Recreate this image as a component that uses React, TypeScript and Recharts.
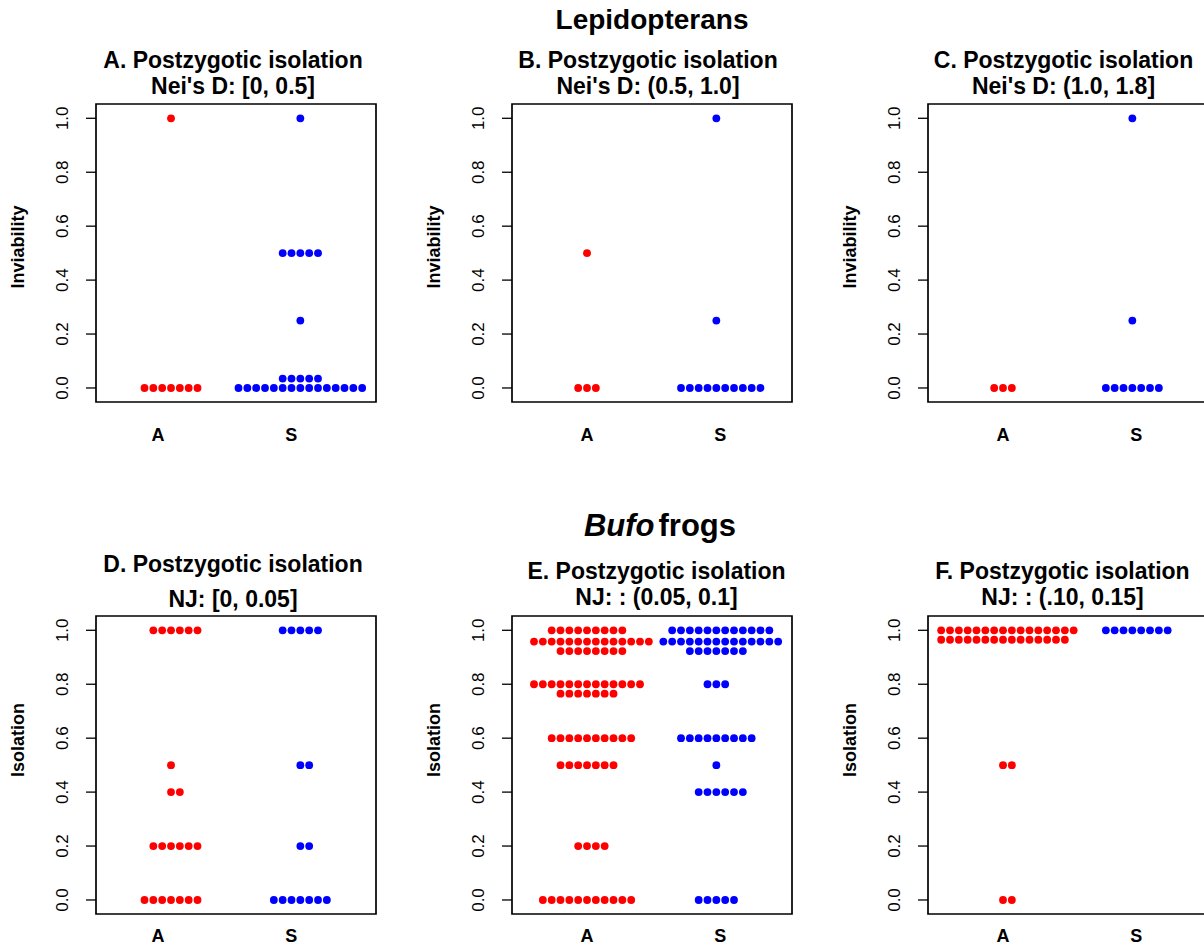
import { ScatterChart, Scatter, XAxis, YAxis, ReferenceArea } from 'recharts'

// group labels on the x axis
const categories = ['A', 'S']
const yTicks = [0, 0.2, 0.4, 0.6, 0.8, 1.0]

const panelLetters = ['A', 'B', 'C', 'D', 'E', 'F']
const rangeLabels = [
  "Nei's D: [0, 0.5]",
  "Nei's D: (0.5, 1.0]",
  "Nei's D: (1.0, 1.8]",
  'NJ: [0, 0.05]',
  'NJ: : (0.05, 0.1]',
  'NJ: : (.10, 0.15]',
]
const yLabels = ['Inviability', 'Inviability', 'Inviability', 'Isolation', 'Isolation', 'Isolation']

// each row: [value, number of pairs with that value]
const alloA: [number, number][] = [[1, 1], [0, 7]]
const sympA: [number, number][] = [[1, 1], [0.5, 5], [0.25, 1], [0.035, 5], [0, 15]]
const alloB: [number, number][] = [[0.5, 1], [0, 3]]
const sympB: [number, number][] = [[1, 1], [0.25, 1], [0, 10]]
const alloC: [number, number][] = [[0, 3]]
const sympC: [number, number][] = [[1, 1], [0.25, 1], [0, 7]]
const alloD: [number, number][] = [[1, 6], [0.5, 1], [0.4, 2], [0.2, 6], [0, 7]]
const sympD: [number, number][] = [[1, 5], [0.5, 2], [0.2, 2], [0, 7]]
const alloE: [number, number][] = [
  [1, 9], [0.958, 14], [0.923, 8], [0.8, 13], [0.765, 7], [0.6, 10], [0.5, 7], [0.2, 4], [0, 11],
]
const sympE: [number, number][] = [
  [1, 12], [0.958, 14], [0.923, 7], [0.8, 3], [0.6, 9], [0.5, 1], [0.4, 6], [0, 5],
]
const alloF: [number, number][] = [[1, 16], [0.965, 15], [0.5, 2], [0, 2]]
const sympF: [number, number][] = [[1, 8]]

const alloRows = [alloA, alloB, alloC, alloD, alloE, alloF]
const sympRows = [sympA, sympB, sympC, sympD, sympE, sympF]

const RED = '#ff0000'
const BLUE = '#0000ff'
const FONT = '"Liberation Sans", Arial, Helvetica, sans-serif'

const X_DOMAIN: [number, number] = [0.42, 2.585]
const Y_DOMAIN: [number, number] = [-0.052, 1.053]
const DOT_X = 0.0683 // dot spacing in x units
const DOT_Y = 0.0327 // dot size in y units

const PLOT_W = 280
const PLOT_H = 298
const AXIS_W = 96

// beeswarm "swarm" layout: place each point as close to the group centre as possible
function swarm(rows: [number, number][], center: number) {
  const values: number[] = []
  rows.forEach(([v, n]) => {
    for (let i = 0; i < n; i++) values.push(v)
  })
  values.sort((a, b) => a - b)
  const placed: { y: number; off: number }[] = []
  for (const v of values) {
    const yi = v / DOT_Y
    const near = placed.filter((p) => Math.abs(yi - p.y) < 1)
    let off = 0
    if (near.length) {
      const d = near.map((p) => Math.sqrt(1 - (yi - p.y) ** 2))
      const cands = [0, ...near.map((p, k) => p.off + d[k]), ...near.map((p, k) => p.off - d[k])]
      let best = Infinity
      for (const c of cands) {
        const bad = near.some((p) => (yi - p.y) ** 2 + (c - p.off) ** 2 < 0.999)
        if (!bad && Math.abs(c) < Math.abs(best)) best = c
      }
      off = best
    }
    placed.push({ y: yi, off })
  }
  return placed.map((p) => ({ x: center + p.off * DOT_X, y: p.y * DOT_Y }))
}

const RedDot = (props: any) => <circle cx={props.cx} cy={props.cy} r={3.9} fill={RED} />
const BlueDot = (props: any) => <circle cx={props.cx} cy={props.cy} r={3.9} fill={BLUE} />

const YTick = (props: any) => {
  const { x, y, payload } = props
  const tx = x - 23
  return (
    <text
      x={tx}
      y={y}
      transform={`rotate(-90 ${tx} ${y})`}
      textAnchor="middle"
      dominantBaseline="central"
      fontSize={17}
      fontFamily={FONT}
      fill="#000"
    >
      {Number(payload.value).toFixed(1)}
    </text>
  )
}

interface PanelProps {
  idx: number
  left: number
  top: number
  xTickPos: number[]
  labelDy: number
}

function Panel({ idx, left, top, xTickPos, labelDy }: PanelProps) {
  const red = swarm(alloRows[idx], 1)
  const blue = swarm(sympRows[idx], 2)

  const XTick = (props: any) => {
    const { x, y, payload } = props
    const k = xTickPos.indexOf(payload.value)
    return (
      <text
        x={x}
        y={y + labelDy}
        textAnchor="middle"
        dominantBaseline="central"
        fontSize={18}
        fontWeight="bold"
        fontFamily={FONT}
        fill="#000"
      >
        {categories[k]}
      </text>
    )
  }

  return (
    <div style={{ position: 'absolute', left: left - AXIS_W, top: top - 10 }}>
      <ScatterChart
        width={AXIS_W + PLOT_W + 10}
        height={10 + PLOT_H + 50}
        margin={{ top: 10, right: 10, left: 0, bottom: 0 }}
      >
        <XAxis
          type="number"
          dataKey="x"
          domain={X_DOMAIN}
          ticks={xTickPos}
          interval={0}
          allowDataOverflow
          axisLine={false}
          tickLine={false}
          tickSize={0}
          tickMargin={0}
          height={50}
          tick={XTick}
        />
        <YAxis
          type="number"
          dataKey="y"
          domain={Y_DOMAIN}
          ticks={yTicks}
          interval={0}
          allowDataOverflow
          width={AXIS_W}
          axisLine={false}
          tickSize={10}
          tickMargin={0}
          tickLine={{ stroke: '#000', strokeWidth: 1.3 }}
          tick={YTick}
        />
        <ReferenceArea
          x1={X_DOMAIN[0]}
          x2={X_DOMAIN[1]}
          y1={Y_DOMAIN[0]}
          y2={Y_DOMAIN[1]}
          fill="none"
          fillOpacity={0}
          stroke="#000"
          strokeWidth={1.7}
          ifOverflow="visible"
        />
        <Scatter data={red} shape={RedDot} isAnimationActive={false} />
        <Scatter data={blue} shape={BlueDot} isAnimationActive={false} />
      </ScatterChart>
    </div>
  )
}

const colLeft = [96, 512, 928]
const rowTop = [104, 616]
const titleX = [233, 648, 1063.5, 233, 656.5, 1062.5]
const titleY = [[60, 86], [60, 86], [60, 86], [564, 599], [571, 597], [571, 597]]
const yLabelY = [247, 740]

function Text({ x, y, size, children, rotate }: any) {
  return (
    <div
      style={{
        position: 'absolute',
        left: x,
        top: y,
        transform: `translate(-50%, -50%)${rotate ? ' rotate(-90deg)' : ''}`,
        fontFamily: FONT,
        fontWeight: 'bold',
        fontSize: size,
        lineHeight: 1,
        whiteSpace: 'nowrap',
        color: '#000',
      }}
    >
      {children}
    </div>
  )
}

export default function App() {
  return (
    <div
      style={{
        position: 'absolute',
        left: 0,
        top: 0,
        width: 1204,
        height: 947,
        overflow: 'hidden',
        background: '#fff',
      }}
    >
      <Text x={652} y={20} size={28}>Lepidopterans</Text>
      <Text x={660} y={525} size={31}>
        <i style={{ marginRight: 4 }}>Bufo</i>frogs
      </Text>

      {panelLetters.map((letter, i) => {
        const row = Math.floor(i / 3)
        const col = i % 3
        return (
          <div key={letter}>
            <Text x={titleX[i]} y={titleY[i][0]} size={23}>
              {letter}. Postzygotic isolation
            </Text>
            <Text x={titleX[i]} y={titleY[i][1]} size={23}>
              {rangeLabels[i]}
            </Text>
            <Text x={colLeft[col] - 78} y={yLabelY[row]} size={18} rotate>
              {yLabels[i]}
            </Text>
            <Panel
              idx={i}
              left={colLeft[col]}
              top={rowTop[row]}
              xTickPos={col === 0 ? [0.9, 1.93] : [1.0, 2.03]}
              labelDy={row === 0 ? 33 : 22}
            />
          </div>
        )
      })}
    </div>
  )
}
